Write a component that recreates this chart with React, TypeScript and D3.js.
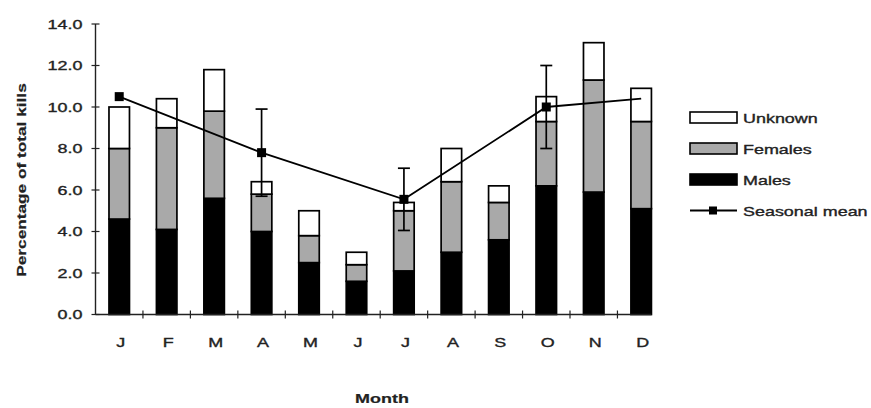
import React from "react";
import * as d3 from "d3";

const months = ["J", "F", "M", "A", "M", "J", "J", "A", "S", "O", "N", "D"];
const males = [4.6, 4.1, 5.6, 4.0, 2.5, 1.6, 2.1, 3.0, 3.6, 6.2, 5.9, 5.1];
const females = [3.4, 4.9, 4.2, 1.8, 1.3, 0.8, 2.9, 3.4, 1.8, 3.1, 5.4, 4.2];
const unknown = [2.0, 1.4, 2.0, 0.6, 1.2, 0.6, 0.4, 1.6, 0.8, 1.2, 1.8, 1.6];
const seasonalIdx = [0, 3, 6, 9, 11];
const seasonalMean = [10.5, 7.8, 5.55, 10.0, 10.4];
const seasonalErr = [0, 2.1, 1.5, 2.0, 0];
const seasonalMarker = [true, true, true, true, false];
const yTicks = [0, 2, 4, 6, 8, 10, 12, 14];
const seriesNames = ["Unknown", "Females", "Males"];
const seriesFill: Record<string, string> = { Males: "#000000", Females: "#a9a9a9", Unknown: "#ffffff" };

const W = 871, H = 408;
const x0 = 95.5, step = 47.45;
const FONT = "'Liberation Sans', Arial, sans-serif";
const SX = 1.38;

function T({ x, y, children, anchor = "start", size = 13, weight = "normal", rotate = 0, sx = SX }: any) {
  return (
    <text
      transform={`translate(${x},${y}) rotate(${rotate}) scale(${sx},1)`}
      textAnchor={anchor}
      fontSize={size}
      fontWeight={weight}
      fontFamily={FONT}
      fill="#222"
      stroke="#222"
      strokeWidth={weight === "bold" ? 0.2 : 0.35}
    >
      {children}
    </text>
  );
}

export default function App() {
  const x = d3.scaleBand<number>().domain(d3.range(12)).range([x0, x0 + step * 12]).paddingInner(0).paddingOuter(0);
  const y = d3.scaleLinear().domain([0, 14]).range([314.5, 24]);
  const bw = 20.5;
  const cx = (i: number) => (x(i) as number) + x.bandwidth() / 2;

  const rows = months.map((m, i) => ({ i, Males: males[i], Females: females[i], Unknown: unknown[i] }));
  const stack = d3.stack<any>().keys(["Males", "Females", "Unknown"])(rows);

  const line = d3.line<number>().x((_, k) => cx(seasonalIdx[k])).y((v) => y(v));
  const axisEnd = cx(11) + bw / 2;

  return (
    <svg width={W} height={H} style={{ position: "absolute", left: 0, top: 0, background: "#fff" }}>
      <rect width={W} height={H} fill="#fff" />
      {/* bars */}
      {stack.map((s) =>
        s.map((d, i) => (
          <rect
            key={s.key + i}
            x={cx(i) - bw / 2}
            y={y(d[1])}
            width={bw}
            height={y(d[0]) - y(d[1])}
            fill={seriesFill[s.key]}
            stroke="#000"
            strokeWidth={1.7}
          />
        ))
      )}
      {/* axes */}
      <line x1={x0} x2={x0} y1={y(14)} y2={y(0)} stroke="#222" strokeWidth={1.4} />
      <line x1={x0} x2={axisEnd} y1={y(0)} y2={y(0)} stroke="#222" strokeWidth={1.4} />
      {yTicks.map((t) => (
        <g key={t}>
          <line x1={x0 - 4} x2={x0 + 4} y1={y(t)} y2={y(t)} stroke="#222" strokeWidth={1.2} />
          <T x={x0 - 13} y={y(t) + 4.5} anchor="end">{t.toFixed(1)}</T>
        </g>
      ))}
      {d3.range(1, 12).map((k) => (
        <line key={k} x1={x0 + k * step} x2={x0 + k * step} y1={y(0) - 4} y2={y(0) + 4} stroke="#222" strokeWidth={1.2} />
      ))}
      {months.map((m, i) => (
        <T key={i} x={cx(i) + 1.5} y={347} anchor="middle">{m}</T>
      ))}
      {/* seasonal mean */}
      <path d={line(seasonalMean) || ""} fill="none" stroke="#000" strokeWidth={1.8} />
      {seasonalMean.map((v, k) => {
        const e = seasonalErr[k];
        const px = cx(seasonalIdx[k]);
        return (
          <g key={k}>
            {e > 0 && (
              <g stroke="#000" strokeWidth={1.7}>
                <line x1={px} x2={px} y1={y(v + e)} y2={y(v - e)} />
                <line x1={px - 6} x2={px + 6} y1={y(v + e)} y2={y(v + e)} />
                <line x1={px - 6} x2={px + 6} y1={y(v - e)} y2={y(v - e)} />
              </g>
            )}
            {seasonalMarker[k] && <rect x={px - 4.5} y={y(v) - 4.5} width={9} height={9} fill="#000" />}
          </g>
        );
      })}
      {/* legend */}
      {seriesNames.map((n, k) => {
        const ly = 117.5 + k * 31;
        return (
          <g key={n}>
            <rect x={690} y={ly - 5.5} width={47} height={11} fill={seriesFill[n]} stroke="#000" strokeWidth={1.6} />
            <T x={743} y={ly + 5}>{n}</T>
          </g>
        );
      })}
      <line x1={690} x2={737} y1={210.5} y2={210.5} stroke="#000" strokeWidth={1.8} />
      <rect x={709} y={206.5} width={8} height={8} fill="#000" />
      <T x={743} y={215.5}>Seasonal mean</T>
      {/* axis titles */}
      <T x={26} y={180} anchor="middle" weight="bold" rotate={-90} size={12.5}>Percentage of total kills</T>
      <T x={382} y={403} anchor="middle" weight="bold" size={13}>Month</T>
    </svg>
  );
}
